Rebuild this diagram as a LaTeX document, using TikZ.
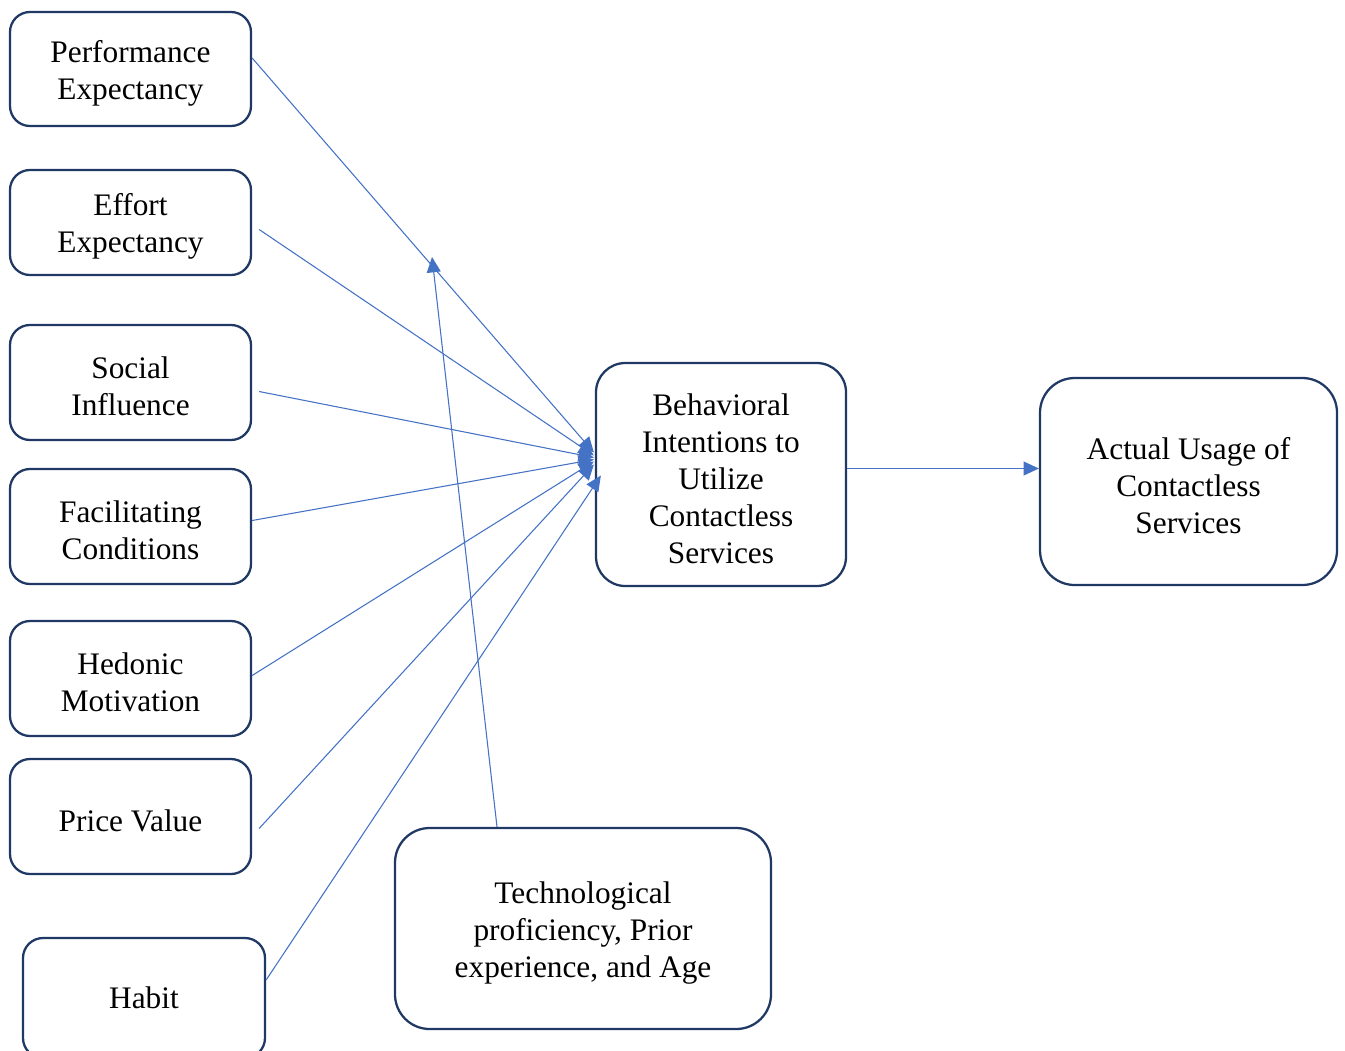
\documentclass[tikz,border=0pt]{standalone}
\usepackage{fontspec}
\setmainfont{Liberation Serif}
\usetikzlibrary{arrows.meta,calc}
\definecolor{boxc}{HTML}{203864}
\definecolor{linec}{HTML}{4472C4}
\newcommand\topgap{\rule{0pt}{22.5pt}}
\begin{document}
\begin{tikzpicture}[x=0.75pt,y=-0.75pt,
  box/.style={draw=boxc,line width=1.7pt,rounded corners=15pt,align=center,inner sep=0pt,
    font=\fontsize{23.5}{27.8}\selectfont},
  conn/.style={draw=linec,line width=0.8pt,-{Triangle[length=11.5pt,width=10.5pt]}},
  plain/.style={draw=linec,line width=0.8pt}]
\useasboundingbox (0,0) rectangle (1345,1050);
\node[box,minimum width=180.75pt,minimum height=85.5pt] (pe) at (130.5,69) {\topgap Performance\\Expectancy};
\node[box,minimum width=180.75pt,minimum height=78.75pt] (ee) at (130.5,222.5) {\topgap Effort\\Expectancy};
\node[box,minimum width=180.75pt,minimum height=86.25pt] (si) at (130.5,382.5) {\topgap Social\\Influence};
\node[box,minimum width=180.75pt,minimum height=86.25pt] (fc) at (130.5,526.5) {\topgap Facilitating\\Conditions};
\node[box,minimum width=180.75pt,minimum height=86.25pt] (hm) at (130.5,678.5) {\topgap Hedonic\\Motivation};
\node[box,minimum width=180.75pt,minimum height=86.25pt] (pv) at (130.5,816.5) {\topgap Price Value};
\node[box,minimum width=181.5pt,minimum height=90pt] (hb) at (144,998) {Habit};
\node[box,rounded corners=22pt,minimum width=187.5pt,minimum height=167.25pt] (bi) at (721,474.5) {\topgap Behavioral\\Intentions to\\Utilize\\Contactless\\Services};
\node[box,rounded corners=26pt,minimum width=222.75pt,minimum height=155.25pt] (au) at (1188.5,481.5) {\topgap Actual Usage of\\Contactless\\Services};
\node[box,rounded corners=26pt,minimum width=282pt,minimum height=150.75pt] (tp) at (583,928.5) {\topgap Technological\\proficiency, Prior\\experience, and Age};
\coordinate (mod) at (432,257);
\draw[conn] ($(pe.east)+(0,-11)$) -- ($(bi.west)+(-1,-22)$);
\draw[conn] ($(ee.east)+(7,7)$) -- ($(bi.west)+(-1,-19)$);
\draw[conn] ($(si.east)+(7,9)$) -- ($(bi.west)+(-1,-17)$);
\draw[conn] ($(fc.east)+(0,-6)$) -- ($(bi.west)+(-1,-15)$);
\draw[conn] ($(hm.east)+(0,-3)$) -- ($(bi.west)+(-1,-13)$);
\draw[conn] ($(pv.east)+(7,12)$) -- ($(bi.west)+(-1,-10)$);
\draw[conn] ($(hb.east)+(0,-18)$) -- ($(bi.west)+(6,1)$);
\draw[conn] ($(tp.north)+(-86,0)$) -- (mod);
\draw[conn] ($(bi.east)+(0,-6)$) -- ($(au.west)+(0,-13)$);
\end{tikzpicture}
\end{document}
